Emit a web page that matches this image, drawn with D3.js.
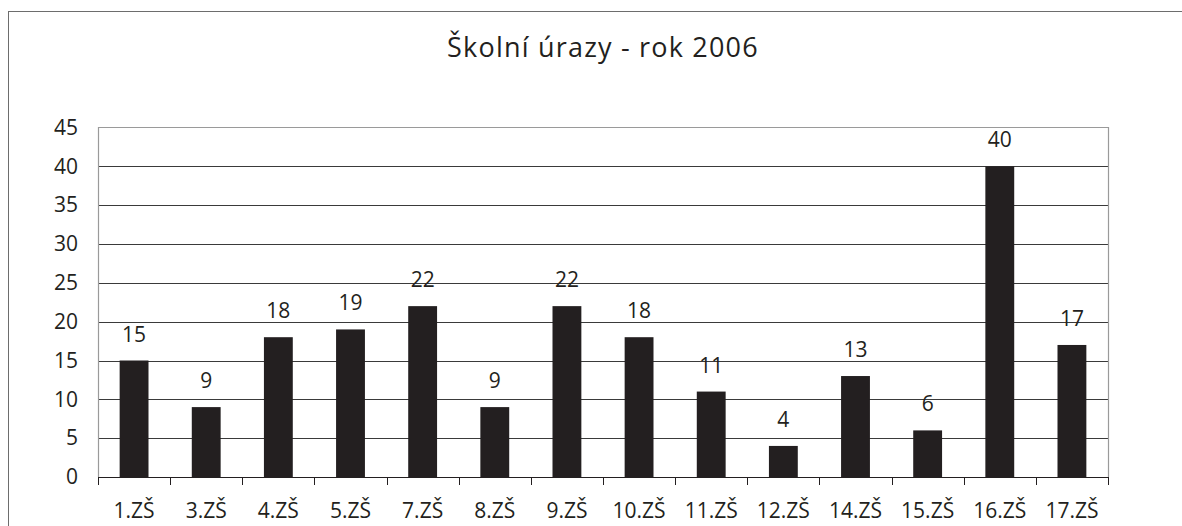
<!DOCTYPE html>
<html><head><meta charset="utf-8">
<script src="https://cdn.jsdelivr.net/npm/d3@7"></script>
<style>body{margin:0;background:#fff}svg{display:block}text{font-family:"Open Sans",sans-serif;fill:#231f20}</style>
</head><body>
<script>
const categories = ["1.ZŠ","3.ZŠ","4.ZŠ","5.ZŠ","7.ZŠ","8.ZŠ","9.ZŠ","10.ZŠ","11.ZŠ","12.ZŠ","14.ZŠ","15.ZŠ","16.ZŠ","17.ZŠ"];
const values = [15,9,18,19,22,9,22,18,11,4,13,6,40,17];
const yTicks = [0,5,10,15,20,25,30,35,40,45];
const title = "Školní úrazy - rok 2006";

const W = 1182, H = 526;
const svg = d3.select("body").append("svg").attr("width", W).attr("height", H);
svg.append("rect").attr("x", 8.5).attr("y", 11.5).attr("width", 1300).attr("height", 700)
  .attr("fill", "none").attr("stroke", "#6d6d6d").attr("stroke-width", 1);

const L = 98, R = 1108, T = 127.5, B = 477;
const x = d3.scaleBand().domain(categories).range([L, R]).paddingInner(0.6).paddingOuter(0.3);
const xb = d3.scaleBand().domain(categories).range([L, R]);
const y = d3.scaleLinear().domain([0, 45]).range([B, T]);
const fs = "21px";

svg.append("text").attr("x", 603).attr("y", 57).attr("text-anchor", "middle")
  .style("font-size", "27px").style("letter-spacing", "1.2px").text(title);

// gridlines
svg.append("g").selectAll("line").data(yTicks.filter(d => d > 0 && d < 45)).join("line")
  .attr("x1", L).attr("x2", R).attr("y1", d => Math.round(y(d)) + 0.5).attr("y2", d => Math.round(y(d)) + 0.5)
  .attr("stroke", "#3a3a3a").attr("stroke-width", 1);
// plot border
svg.append("path").attr("d", `M${L+0.5},${B} V${T} H${R+0.5} V${B}`)
  .attr("fill", "none").attr("stroke", "#9a9a9a").attr("stroke-width", 1.2);

// y axis labels
const yAxis = d3.axisLeft(y).tickValues(yTicks).tickSize(0).tickPadding(20);
const gy = svg.append("g").attr("transform", `translate(${L},0)`).call(yAxis);
gy.select(".domain").remove();
gy.selectAll("text").style("font-size", fs).style("font-family", '"Open Sans",sans-serif').attr("fill", "#231f20");

// bars
svg.append("g").selectAll("rect").data(values).join("rect")
  .attr("x", (d, i) => x(categories[i])).attr("width", x.bandwidth())
  .attr("y", d => y(d)).attr("height", d => B - y(d)).attr("fill", "#231f20");

// value labels
svg.append("g").selectAll("text").data(values).join("text")
  .attr("x", (d, i) => x(categories[i]) + x.bandwidth() / 2).attr("y", d => y(d) - 19)
  .attr("text-anchor", "middle").style("font-size", fs).text(d => d);

// x axis
const gx = svg.append("g").attr("transform", `translate(0,${B})`);
gx.append("line").attr("x1", L).attr("x2", R + 1).attr("y1", 0.5).attr("y2", 0.5).attr("stroke", "#231f20");
gx.selectAll("line.tk").data(d3.range(categories.length + 1)).join("line").attr("class", "tk")
  .attr("x1", i => Math.round(L + i * xb.bandwidth()) + 0.5).attr("x2", i => Math.round(L + i * xb.bandwidth()) + 0.5)
  .attr("y1", 0).attr("y2", 8).attr("stroke", "#231f20");
gx.selectAll("text").data(categories).join("text")
  .attr("x", d => xb(d) + xb.bandwidth() / 2).attr("y", 41)
  .attr("text-anchor", "middle").style("font-size", fs).text(d => d);
</script>
</body></html>
